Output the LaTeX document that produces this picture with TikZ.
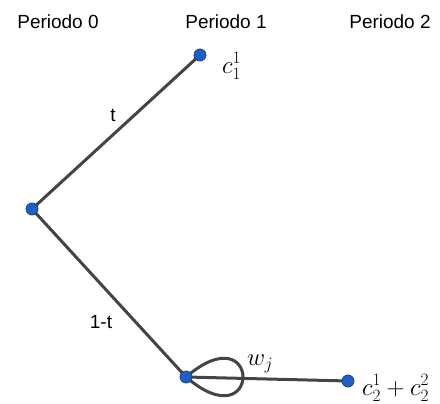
\documentclass[tikz,border=0pt]{standalone}
\usepackage{fontspec}
\newfontfamily\arial{Liberation Sans}
\definecolor{linea}{HTML}{444444}
\definecolor{blu}{HTML}{1F5FC8}
\tikzset{
    punto/.style={circle,fill=blu,draw=blu!70!black,line width=0.8pt,inner sep=0pt,minimum size=12pt},
    ramo/.style={draw=linea,line width=3pt},
    periodo/.style={font=\arial\fontsize{19}{21}\selectfont},
    etic/.style={font=\fontsize{25}{27}\selectfont,inner sep=1pt}
}
\begin{document}
\begin{tikzpicture}[x=1pt,y=-1pt]
        \useasboundingbox (0,0) rectangle (440,404);
        % intestazioni
        \node[periodo] (p0) at (58,22) {Periodo 0};
        \node[periodo] (p1) at (226,22) {Periodo 1};
        \node[periodo] (p2) at (390,22) {Periodo 2};

        % nodi
        \coordinate (a) at (32,209);
        \coordinate (b) at (200,55);
        \coordinate (c) at (186,377);
        \coordinate (d) at (348,381);

        % rami
        \draw[ramo] (a) -- (b);
        \draw[ramo] (a) -- (c);
        \draw[ramo] (c) -- (d);
        \draw[ramo] (c) .. controls (262,312) and (262,442) .. (c);

        \node[punto] (na) at (a) {};
        \node[punto] (nb) at (b) {};
        \node[punto] (nc) at (c) {};
        \node[punto] (nd) at (d) {};

        % etichette
        \node[periodo] (t) at (113,115) {t};
        \node[periodo] (ut) at (101,322) {1-t};
        \node[etic,anchor=west] (c11) at (221,66) {$c_1^1$};
        \node[etic,anchor=west] (wj) at (246,364) {$w_j$};
        \node[etic,anchor=west] (c22) at (361,388) {$c_2^1+c_2^2$};
    \end{tikzpicture}
\end{document}
